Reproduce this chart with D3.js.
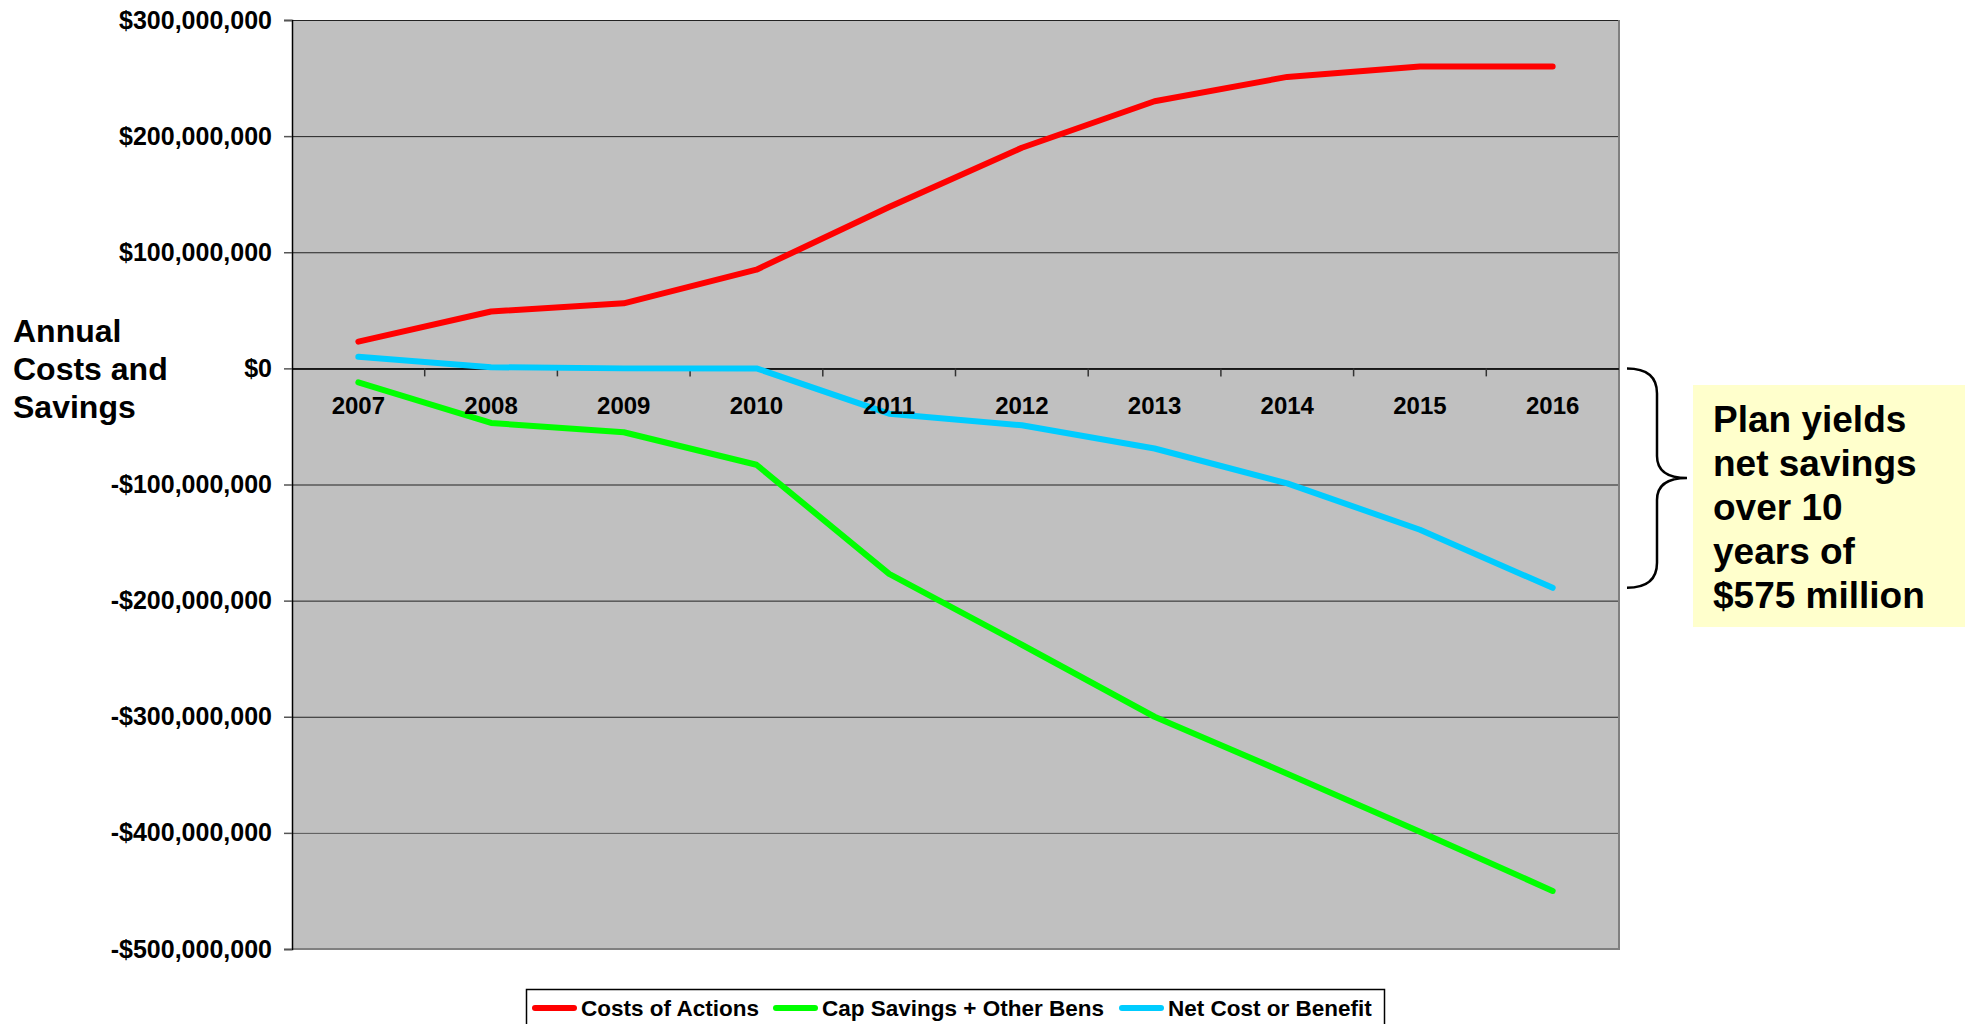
<!DOCTYPE html>
<html>
<head>
<meta charset="utf-8">
<script src="https://cdn.jsdelivr.net/npm/d3@7"></script>
<style>
  body { margin: 0; background: #fff; }
  svg text { font-family: "Liberation Sans", Arial, sans-serif; font-weight: bold; fill: #000; }
</style>
</head>
<body>
<div class="chart"></div>
<script>
// values in millions of dollars
var years = ["2007","2008","2009","2010","2011","2012","2013","2014","2015","2016"]
var costs = [23, 49, 56, 85, 139, 190, 230, 251, 260, 260]
var savings = [-12, -47, -55, -83, -177, -238, -300, -349, -399, -450]
var net = [10, 1, 0, 0, -39, -49, -69, -99, -139, -189]
var yTicks = [300, 200, 100, 0, -100, -200, -300, -400, -500]
var seriesNames = ["Costs of Actions", "Cap Savings + Other Bens", "Net Cost or Benefit"]
var colors = ["#ff0000", "#00ff00", "#00ccff"]
var yTitle = ["Annual", "Costs and", "Savings"]
var note = ["Plan yields", "net savings", "over 10", "years of", "$575 million"]

var width = 1971, height = 1024
var plot = { left: 292, right: 1619, top: 20, bottom: 949 }

var svg = d3.select(".chart").append("svg")
    .attr("width", width)
    .attr("height", height)

var x = d3.scaleBand().domain(years).range([plot.left, plot.right]).padding(0)
var y = d3.scaleLinear().domain([-500, 300]).range([plot.bottom, plot.top])

// plot background
svg.append("rect")
    .attr("x", plot.left).attr("y", plot.top)
    .attr("width", plot.right - plot.left).attr("height", plot.bottom - plot.top)
    .attr("fill", "#c0c0c0")

// gridlines
svg.selectAll(".grid").data(yTicks).enter().append("line")
    .attr("class", "grid")
    .attr("x1", plot.left).attr("x2", plot.right)
    .attr("y1", d => y(d) + 0.5).attr("y2", d => y(d) + 0.5)
    .attr("stroke", d => d == -400 ? "#555" : "#222")
    .attr("stroke-width", 1)

// right and bottom border
svg.append("path")
    .attr("d", "M" + plot.right + "," + plot.top + "V" + plot.bottom + "H" + plot.left)
    .attr("fill", "none").attr("stroke", "#808080").attr("stroke-width", 2)

// y axis
var fmt = d3.format(",")
var yAxis = d3.axisLeft(y)
    .tickValues(yTicks)
    .tickSize(8)
    .tickPadding(12)
    .tickFormat(d => (d < 0 ? "-$" : "$") + fmt(Math.abs(d) * 1e6))
var gy = svg.append("g")
    .attr("transform", "translate(" + plot.left + ",0)")
    .call(yAxis)
gy.select(".domain").attr("stroke", "#000").attr("stroke-width", 1.5)
gy.selectAll(".tick line").attr("stroke", "#555").attr("stroke-width", 1.5)
gy.selectAll(".tick text").style("font-size", "25px")

// x axis on the zero line, ticks between categories
svg.append("line")
    .attr("x1", plot.left).attr("x2", plot.right)
    .attr("y1", y(0) + 0.5).attr("y2", y(0) + 0.5)
    .attr("stroke", "#000").attr("stroke-width", 1.5)
svg.selectAll(".xtick").data(years.slice(1)).enter().append("line")
    .attr("class", "xtick")
    .attr("x1", d => x(d)).attr("x2", d => x(d))
    .attr("y1", y(0)).attr("y2", y(0) + 8)
    .attr("stroke", "#333").attr("stroke-width", 1.5)

// series
var series = [costs, savings, net]
var line = d3.line()
    .x((d, i) => x(years[i]) + x.bandwidth() / 2)
    .y(d => y(d))
series.forEach((s, k) => {
  svg.append("path")
      .attr("d", line(s))
      .attr("fill", "none")
      .attr("stroke", colors[k])
      .attr("stroke-width", 6)
      .attr("stroke-linejoin", "round")
      .attr("stroke-linecap", "round")
})

// year labels
svg.selectAll(".xlabel").data(years).enter().append("text")
    .attr("class", "xlabel")
    .attr("x", d => x(d) + x.bandwidth() / 2)
    .attr("y", y(0) + 46)
    .attr("text-anchor", "middle")
    .style("font-size", "24px")
    .text(d => d)

// y title
yTitle.forEach((t, i) => {
  svg.append("text")
      .attr("x", 13).attr("y", 342 + i * 38)
      .style("font-size", "32px")
      .text(t)
})

// legend
var legend = svg.append("g")
legend.append("rect")
    .attr("x", 526.5).attr("y", 989.5)
    .attr("width", 858).attr("height", 50)
    .attr("fill", "#fff").attr("stroke", "#000").attr("stroke-width", 1.5)
var itemX = [532, 773, 1119]
seriesNames.forEach((name, k) => {
  legend.append("line")
      .attr("x1", itemX[k] + 3).attr("x2", itemX[k] + 42)
      .attr("y1", 1008).attr("y2", 1008)
      .attr("stroke", colors[k]).attr("stroke-width", 6)
      .attr("stroke-linecap", "round")
  legend.append("text")
      .attr("x", itemX[k] + 49).attr("y", 1016)
      .style("font-size", "22.5px")
      .text(name)
})

// brace from zero to the final net value
var top0 = y(0), bot0 = y(net[net.length - 1]), mid = (top0 + bot0) / 2
svg.append("path")
    .attr("d", "M1627," + top0 + "Q1657," + top0 + " 1657," + (top0 + 25) +
      "L1657," + (mid - 22) + "Q1657," + mid + " 1687," + mid +
      "Q1657," + mid + " 1657," + (mid + 22) +
      "L1657," + (bot0 - 25) + "Q1657," + bot0 + " 1627," + bot0)
    .attr("fill", "none").attr("stroke", "#000").attr("stroke-width", 2.5)

// callout
svg.append("rect")
    .attr("x", 1693).attr("y", 385)
    .attr("width", 272).attr("height", 242)
    .attr("fill", "#ffffcc")
note.forEach((t, i) => {
  svg.append("text")
      .attr("x", 1713).attr("y", 432 + i * 44)
      .style("font-size", "37px")
      .text(t)
})
</script>
</body>
</html>
